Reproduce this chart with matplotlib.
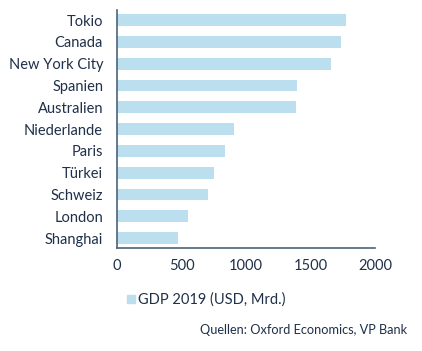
import matplotlib.pyplot as plt
from matplotlib.patches import Patch

# GDP 2019 in USD bn, bottom to top
places = ['Shanghai', 'London', 'Schweiz', 'Türkei', 'Paris', 'Niederlande',
          'Australien', 'Spanien', 'New York City', 'Canada', 'Tokio']
gdp = [470, 550, 703, 755, 838, 907, 1387, 1394, 1658, 1738, 1772]
xticks = [0, 500, 1000, 1500, 2000]

text_col = '#1f3049'
spine_col = '#4d6379'
bar_col = '#bbdfee'

plt.rcParams['font.family'] = ['Lato', 'DejaVu Sans']

fig = plt.figure(figsize=(4.22, 3.51), dpi=100)
ax = fig.add_axes([117 / 422, 1 - 248 / 351, (375 - 117) / 422, (248 - 10) / 351])

ax.barh(range(len(places)), gdp, height=0.54, color=bar_col)
ax.set_yticks(range(len(places)))
ax.set_yticklabels(places, fontsize=10.5, color=text_col)
ax.set_xticks(xticks)
ax.set_xticklabels([str(t) for t in xticks], fontsize=10.5, color=text_col)
ax.set_xlim(0, 2000)
ax.set_ylim(-0.45, 10.46)
ax.tick_params(axis='y', length=0, pad=10)
ax.tick_params(axis='x', length=0, pad=8)

for s in ['top', 'right']:
    ax.spines[s].set_visible(False)
for s in ['left', 'bottom']:
    ax.spines[s].set_color(spine_col)
    ax.spines[s].set_linewidth(1.2)

handle = Patch(color=bar_col)
fig.legend([handle], ['GDP 2019 (USD, Mrd.)'], loc='center left',
           bbox_to_anchor=(120 / 422, 1 - 300 / 351), frameon=False,
           fontsize=10.5, labelcolor=text_col, handlelength=0.5, handleheight=0.5,
           handletextpad=0.25, borderpad=0)

fig.text(407 / 422, 1 - 330 / 351, 'Quellen: Oxford Economics, VP Bank',
         ha='right', va='center', fontsize=9.2, color=text_col)

fig.savefig('out.png', dpi=100)
